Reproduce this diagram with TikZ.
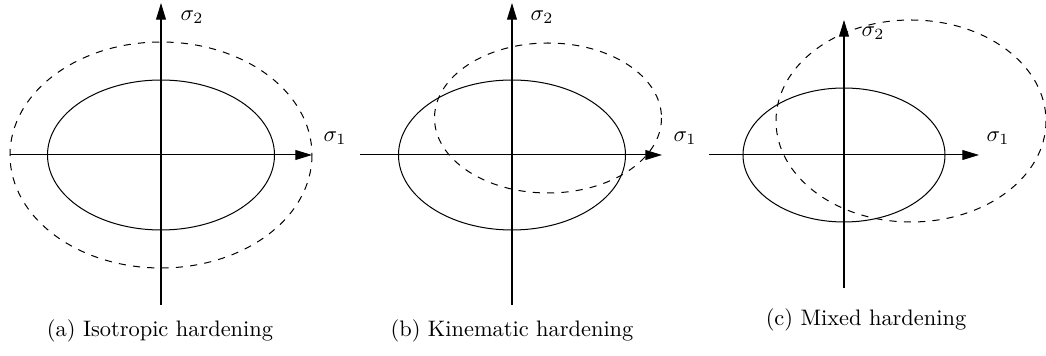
\documentclass[tikz,border=0pt]{standalone}
\usetikzlibrary{arrows.meta}
\begin{document}
\begin{tikzpicture}[x=0.4464pt,y=-0.4464pt,
  axisline/.style={line width=0.45pt,-{Triangle[length=7.4pt,width=4.4pt]}},
  yieldsurf/.style={line width=0.45pt},
  hardsurf/.style={line width=0.45pt,dash pattern=on 3.2pt off 3.2pt},
  axlabel/.style={inner sep=0pt,font=\normalsize},
  captxt/.style={inner sep=0pt,font=\normalsize}]
\useasboundingbox (0,0) rectangle (1046,356);
% ---------- (a) isotropic
\coordinate (aO) at (161,155);
\coordinate (aW) at (10,155);
\coordinate (aE) at (312,155);
\coordinate (aS) at (161,305);
\coordinate (aN) at (161,3);
\draw[yieldsurf] (aO) ellipse [x radius=113.5, y radius=75];
\draw[hardsurf] (aO) ellipse [x radius=151, y radius=113];
\draw[axisline] (aW) -- (aE);
\draw[axisline] (aS) -- (aN);
\node[axlabel] (as2) at (192,17) {$\sigma_2$};
\node[axlabel] (as1) at (335,138) {$\sigma_1$};
\node[captxt] (acap) at (160,331) {(a) Isotropic hardening};
% ---------- (b) kinematic
\coordinate (bO) at (512,155);
\coordinate (bC) at (548,118);
\coordinate (bW) at (360,155);
\coordinate (bE) at (662,155);
\coordinate (bS) at (512,305);
\coordinate (bN) at (512,3);
\draw[yieldsurf] (bO) ellipse [x radius=113.5, y radius=75];
\draw[hardsurf] (bC) ellipse [x radius=113.5, y radius=75];
\draw[axisline] (bW) -- (bE);
\draw[axisline] (bS) -- (bN);
\node[axlabel] (bs2) at (542,17) {$\sigma_2$};
\node[axlabel] (bs1) at (685,138) {$\sigma_1$};
\node[captxt] (bcap) at (512,331) {(b) Kinematic hardening};
% ---------- (c) mixed
\coordinate (cO) at (844,155);
\coordinate (cC) at (911,121);
\coordinate (cW) at (709,155);
\coordinate (cE) at (979,155);
\coordinate (cS) at (844,288);
\coordinate (cN) at (844,20);
\draw[yieldsurf] (cO) ellipse [x radius=101, y radius=67];
\draw[hardsurf] (cC) ellipse [x radius=135, y radius=101];
\draw[axisline] (cW) -- (cE);
\draw[axisline] (cS) -- (cN);
\node[axlabel] (cs2) at (873,33) {$\sigma_2$};
\node[axlabel] (cs1) at (998,138) {$\sigma_1$};
\node[captxt] (ccap) at (866,320) {(c) Mixed hardening};
\end{tikzpicture}
\end{document}
